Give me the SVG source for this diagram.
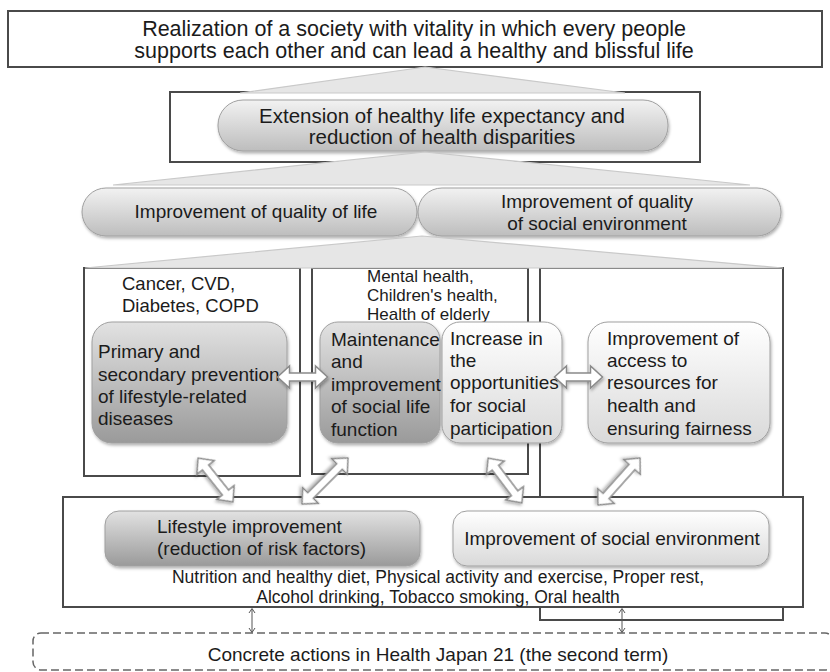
<svg xmlns="http://www.w3.org/2000/svg" width="830" height="672" viewBox="0 0 830 672">
<defs>
  <linearGradient id="gDark" x1="0" y1="0" x2="0" y2="1">
    <stop offset="0" stop-color="#e2e2e2"/><stop offset="1" stop-color="#9a9a9a"/>
  </linearGradient>
  <linearGradient id="gMid" x1="0" y1="0" x2="0" y2="1">
    <stop offset="0" stop-color="#f2f2f2"/><stop offset="1" stop-color="#bdbdbd"/>
  </linearGradient>
  <linearGradient id="gLight" x1="0" y1="0" x2="0" y2="1">
    <stop offset="0" stop-color="#ffffff"/><stop offset="1" stop-color="#d9d9d9"/>
  </linearGradient>
  <filter id="sh" x="-10%" y="-10%" width="125%" height="135%">
    <feDropShadow dx="1" dy="2" stdDeviation="1.5" flood-color="#000" flood-opacity="0.3"/>
  </filter>
  <style>
    text { font-family: "Liberation Sans", Arial, sans-serif; fill: #1b1b1b; }
    .box { fill: #fff; stroke: #4a4a4a; stroke-width: 2; }
    .pill { stroke: #a0a0a0; stroke-width: 1; filter: url(#sh); }
    .dark { fill: url(#gDark); }
    .mid { fill: url(#gMid); }
    .light { fill: url(#gLight); }
    .tri { fill: #e6e6e6; stroke: #c9c9c9; stroke-width: 1.2; }
    .barrow { fill: #fff; stroke: #8a8a8a; stroke-width: 1.5; filter: url(#sh); }
    .thin { stroke: #555; stroke-width: 1; fill: none; }
    .dash { fill: #fff; stroke: #666; stroke-width: 1.5; stroke-dasharray: 8 4; }
    .t215 { font-size: 21.5px; }
    .t205 { font-size: 20.5px; }
    .t19 { font-size: 19px; }
    .t18 { font-size: 18.5px; }
    .t17 { font-size: 17px; }
    .t175 { font-size: 17.5px; }
    .c { text-anchor: middle; }
  </style>
</defs>

<g id="goal">
  <rect class="box" x="8" y="11" width="814" height="56"/>
  <text class="t215 c" x="414" y="36">Realization of a society with vitality in which every people</text>
  <text class="t215 c" x="414" y="58">supports each other and can lead a healthy and blissful life</text>
</g>

<g id="extension">
  <rect class="box" x="170" y="92" width="530" height="70"/>
  <rect class="pill mid" x="218" y="100" width="450" height="51" rx="25"/>
  <text class="t205 c" x="442" y="123">Extension of healthy life expectancy and</text>
  <text class="t205 c" x="442" y="144">reduction of health disparities</text>
</g>

<g id="quality-life">
  <rect class="pill mid" x="82" y="188" width="335" height="48" rx="24"/>
  <text class="t19 c" x="256" y="218">Improvement of quality of life</text>
</g>

<g id="quality-social">
  <rect class="pill mid" x="418" y="188" width="363" height="48" rx="24"/>
  <text class="t19 c" x="597" y="208">Improvement of quality</text>
  <text class="t19 c" x="597" y="230">of social environment</text>
</g>

<g id="area-right">
  <rect class="box" x="540" y="268" width="243" height="352"/>
</g>

<g id="area-left">
  <rect class="box" x="84" y="268" width="216" height="208"/>
  <text class="t18" x="122" y="290">Cancer, CVD,</text>
  <text class="t18" x="122" y="312">Diabetes, COPD</text>
</g>

<g id="area-middle">
  <rect class="box" x="312" y="268" width="216" height="206"/>
  <text class="t17" x="367" y="282">Mental health,</text>
  <text class="t17" x="367" y="301">Children's health,</text>
  <text class="t17" x="367" y="320">Health of elderly</text>
</g>

<g id="prevention">
  <rect class="pill dark" x="92" y="322" width="195" height="121" rx="20"/>
  <text class="t19" x="98" y="358">Primary and</text>
  <text class="t19" x="98" y="380.5">secondary prevention</text>
  <text class="t19" x="98" y="403">of lifestyle-related</text>
  <text class="t19" x="98" y="425">diseases</text>
</g>

<g id="social-function">
  <rect class="pill dark" x="320" y="322" width="120" height="121" rx="18"/>
  <text class="t19" x="331" y="346">Maintenance</text>
  <text class="t19" x="331" y="368">and</text>
  <text class="t19" x="331" y="391">improvement</text>
  <text class="t19" x="331" y="413">of social life</text>
  <text class="t19" x="331" y="436">function</text>
</g>

<g id="participation">
  <rect class="pill light" x="442" y="322" width="120" height="121" rx="18"/>
  <text class="t19" x="450" y="345">Increase in</text>
  <text class="t19" x="450" y="367">the</text>
  <text class="t19" x="450" y="389">opportunities</text>
  <text class="t19" x="450" y="412">for social</text>
  <text class="t19" x="450" y="435">participation</text>
</g>

<g id="access">
  <rect class="pill light" x="588" y="322" width="182" height="121" rx="20"/>
  <text class="t19" x="607" y="345">Improvement of</text>
  <text class="t19" x="607" y="367">access to</text>
  <text class="t19" x="607" y="389">resources for</text>
  <text class="t19" x="607" y="412">health and</text>
  <text class="t19" x="607" y="435">ensuring fairness</text>
</g>

<g id="base">
  <rect class="box" x="63" y="497" width="740" height="110"/>
  <text class="t175 c" x="438" y="583">Nutrition and healthy diet, Physical activity and exercise, Proper rest,</text>
  <text class="t175 c" x="438" y="603">Alcohol drinking, Tobacco smoking, Oral health</text>
</g>

<g id="lifestyle">
  <rect class="pill dark" x="105" y="511" width="315" height="55" rx="14"/>
  <text class="t19" x="157" y="533">Lifestyle improvement</text>
  <text class="t19" x="157" y="555">(reduction of risk factors)</text>
</g>

<g id="social-env">
  <rect class="pill light" x="453" y="511" width="316" height="55" rx="14"/>
  <text class="t19 c" x="612" y="545">Improvement of social environment</text>
</g>

<g id="actions">
  <rect class="dash" x="33" y="633" width="800" height="37" rx="8"/>
  <text class="t19 c" x="438" y="661">Concrete actions in Health Japan 21 (the second term)</text>
</g>

<g id="connectors">
  <polygon class="tri" points="425,67 625,93 240,93"/>
  <polygon class="tri" points="425,152 750,185 113,185"/>
  <polygon class="tri" points="422,236 783,268 85,268"/>
  <path class="barrow" transform="translate(302.5,377)" d="M-25,0 L-13,-11 L-13,-4 L13,-4 L13,-11 L25,0 L13,11 L13,4 L-13,4 L-13,11 Z"/>
  <path class="barrow" transform="translate(578.5,377)" d="M-24,0 L-12,-11 L-12,-4 L12,-4 L12,-11 L24,0 L12,11 L12,4 L-12,4 L-12,11 Z"/>
  <path class="barrow" transform="translate(215.5,480) rotate(51.5)" d="M-28,0 L-16,-11 L-16,-4 L16,-4 L16,-11 L28,0 L16,11 L16,4 L-16,4 L-16,11 Z"/>
  <path class="barrow" transform="translate(325,481) rotate(135)" d="M-32.5,0 L-20.5,-11 L-20.5,-4 L20.5,-4 L20.5,-11 L32.5,0 L20.5,11 L20.5,4 L-20.5,4 L-20.5,11 Z"/>
  <path class="barrow" transform="translate(505,480.5) rotate(53)" d="M-28,0 L-16,-11 L-16,-4 L16,-4 L16,-11 L28,0 L16,11 L16,4 L-16,4 L-16,11 Z"/>
  <path class="barrow" transform="translate(619,481.5) rotate(131.8)" d="M-31.5,0 L-19.5,-11 L-19.5,-4 L19.5,-4 L19.5,-11 L31.5,0 L19.5,11 L19.5,4 L-19.5,4 L-19.5,11 Z"/>
  <path class="thin" d="M252,609 L252,632 M249,613 L252,608.5 L255,613 M249,628 L252,632.5 L255,628"/>
  <path class="thin" d="M622,609 L622,632 M619,613 L622,608.5 L625,613 M619,628 L622,632.5 L625,628"/>
</g>
</svg>
